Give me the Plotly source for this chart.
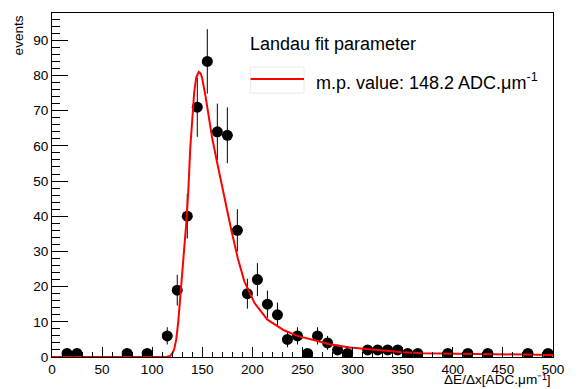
import plotly.graph_objects as go

# Histogram of energy loss per unit length (bin centres, counts, Poisson errors)
bin_centers = [15, 25, 75, 95, 115, 125, 135, 145, 155, 165, 175, 185, 195, 205,
               215, 225, 235, 245, 255, 265, 275, 285, 295, 315, 325, 335, 345,
               355, 365, 395, 415, 435, 475, 495]
counts = [1, 1, 1, 1, 6, 19, 40, 71, 84, 64, 63, 36, 18, 22,
          15, 12, 5, 6, 1, 6, 4, 2, 1, 2, 2, 2, 2,
          1, 1, 1, 1, 1, 1, 1]
count_errors = [1.0, 1.0, 1.0, 1.0, 2.45, 4.36, 6.32, 8.43, 9.17, 8.0, 7.94, 6.0, 4.24, 4.69,
                3.87, 3.46, 2.24, 2.45, 1.0, 2.45, 2.0, 1.41, 1.0, 1.41, 1.41, 1.41, 1.41,
                1.0, 1.0, 1.0, 1.0, 1.0, 1.0, 1.0]
half_bin = [5] * len(bin_centers)

# Landau fit curve samples
fit_x = [0, 114, 118, 120, 122, 124, 126, 128, 130, 132, 134, 136, 138, 140, 142, 144,
         146.5, 148.5, 150, 153, 156.5, 160, 165, 170, 175, 179, 185.5, 192, 202, 215,
         231.5, 245, 264, 277, 297, 323.5, 350, 370, 400, 450, 500]
fit_y = [0, 0, 0.3, 1, 2.2, 5, 10, 18, 25, 31, 38, 47, 59.5, 68.5, 75.5, 79.5,
         81, 80.5, 79, 74.5, 68, 62, 55, 48, 41.5, 36, 28, 21.5, 15.4, 10.6,
         7.6, 6.0, 4.6, 3.6, 2.7, 2.0, 1.35, 1.1, 0.95, 0.72, 0.57]

fit_label = "m.p. value: 148.2 ADC.\u03bcm<sup>-1</sup>"
legend_title = "Landau fit parameter"
x_title = "\u0394E/\u0394x[ADC.\u03bcm\u207b\u00b9]"
y_title = "events"

FONT = "Liberation Sans, Arial, Helvetica, sans-serif"

fig = go.Figure()

fig.add_trace(go.Scatter(
    x=bin_centers, y=counts, mode="markers",
    marker=dict(symbol="circle", size=11, color="black"),
    error_y=dict(type="data", array=count_errors, color="black", thickness=1, width=0),
    error_x=dict(type="data", array=half_bin, color="black", thickness=1, width=0),
    showlegend=False, hoverinfo="x+y",
))

fig.add_trace(go.Scatter(
    x=fit_x, y=fit_y, mode="lines",
    line=dict(color="#ff0000", width=2),
    name=fit_label, showlegend=False,
))

axis_common = dict(
    showline=True, linecolor="black", linewidth=1, mirror=True,
    ticks="inside", tickcolor="black", tickwidth=1,
    showgrid=False, zeroline=False,
    tickfont=dict(family=FONT, size=13.6, color="black"),
)

fig.update_xaxes(
    range=[0, 500], tick0=0, dtick=50, ticklen=10,
    minor=dict(ticks="inside", dtick=10, ticklen=5, tickcolor="black", tickwidth=1),
    **axis_common,
)
fig.update_yaxes(
    range=[0, 97.75], tick0=0, dtick=10, ticklen=16,
    minor=dict(ticks="inside", dtick=2, ticklen=8, tickcolor="black", tickwidth=1),
    **axis_common,
)

annotations = [
    dict(text=x_title, xref="paper", yref="paper", x=1.0, y=-0.093,
         xanchor="right", yanchor="bottom", showarrow=False,
         font=dict(family=FONT, size=13.6, color="black")),
    dict(text=y_title, xref="paper", yref="paper", x=-0.067, y=1.0,
         xanchor="center", yanchor="top", textangle=-90, showarrow=False,
         font=dict(family=FONT, size=13.6, color="black")),
    dict(text=legend_title, xref="paper", yref="paper", x=0.3905, y=0.910,
         xanchor="left", yanchor="middle", showarrow=False,
         font=dict(family=FONT, size=18, color="black")),
    dict(text=fit_label, xref="paper", yref="paper", x=0.5227, y=0.802,
         xanchor="left", yanchor="middle", showarrow=False,
         font=dict(family=FONT, size=18, color="black")),
]

shapes = [
    dict(type="rect", xref="paper", yref="paper", x0=0.3964, x1=0.503, y0=0.767, y1=0.843,
         line=dict(color="#ebebeb", width=1), fillcolor="rgba(0,0,0,0)"),
    dict(type="line", xref="paper", yref="paper", x0=0.3964, x1=0.503, y0=0.808, y1=0.808,
         line=dict(color="#ff0000", width=2)),
]

fig.update_layout(
    width=577, height=389,
    margin=dict(l=52, r=18, t=13, b=32),
    paper_bgcolor="white", plot_bgcolor="white",
    font=dict(family=FONT, color="black"),
    annotations=annotations, shapes=shapes,
    showlegend=False,
)

fig.write_html("out.html")
